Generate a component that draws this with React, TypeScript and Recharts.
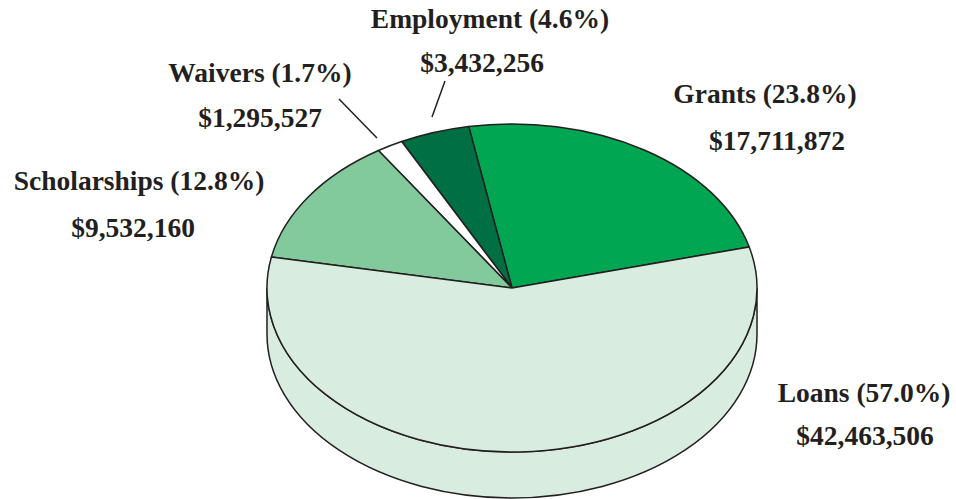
import React from 'react';
import { PieChart, Pie, Cell } from 'recharts';

const names = ['Grants', 'Employment', 'Waivers', 'Scholarships', 'Loans'];
const amounts = [17711872, 3432256, 1295527, 9532160, 42463506];
const colors = ['#00a651', '#006f43', '#ffffff', '#82c99c', '#d8ede0'];

const total = amounts.reduce((a, b) => a + b, 0);
const data = names.map((name, i) => ({ name, value: amounts[i] }));

// label placement (title centre / baselines), keyed by slice name
const labelPos: Record<string, { x1: number; y1: number; x2: number; y2: number }> = {
  Grants: { x1: 765, y1: 103, x2: 777, y2: 150 },
  Employment: { x1: 490, y1: 28, x2: 482, y2: 72 },
  Waivers: { x1: 260, y1: 82, x2: 260, y2: 127 },
  Scholarships: { x1: 139, y1: 190, x2: 133, y2: 237 },
  Loans: { x1: 864, y1: 402, x2: 865, y2: 445 },
};
const leaders: Record<string, number[]> = {
  Waivers: [339, 99, 377, 138],
  Employment: [445, 81, 432, 117],
};

const W = 956;
const H = 499;
const SQUASH = 164 / 245; // ellipse ry / rx
const DEPTH = 46;
const INK = '#231f20';
const FONT = 27.5;

const rad = (d: number) => (d * Math.PI) / 180;

// elliptical slice + front wall, built from the angles recharts computes
const Slice3D = (props: any) => {
  const { cx, cy, outerRadius, fill } = props;
  const a0 = Math.min(props.startAngle, props.endAngle);
  const a1 = Math.max(props.startAngle, props.endAngle);
  const rx = outerRadius;
  const ry = outerRadius * SQUASH;
  const pt = (a: number, dy = 0) => [cx + rx * Math.cos(rad(a)), cy - ry * Math.sin(rad(a)) + dy];

  const [x0, y0] = pt(a0);
  const [x1, y1] = pt(a1);
  const large = a1 - a0 > 180 ? 1 : 0;
  const top = `M${cx},${cy} L${x0},${y0} A${rx},${ry} 0 ${large} 0 ${x1},${y1} Z`;

  // front part of the slice: angles within 180..360 (mod 360)
  const walls: string[] = [];
  for (const base of [0, 360]) {
    const s = Math.max(a0, 180 + base);
    const e = Math.min(a1, 360 + base);
    if (e > s) {
      const [sx, sy] = pt(s);
      const [ex, ey] = pt(e);
      walls.push(
        `M${sx},${sy} A${rx},${ry} 0 0 0 ${ex},${ey} L${ex},${ey + DEPTH} A${rx},${ry} 0 0 1 ${sx},${sy + DEPTH} Z`
      );
    }
  }

  return (
    <g>
      {walls.map((d, i) => (
        <path key={i} d={d} fill={fill} stroke={INK} strokeWidth={1.5} strokeLinejoin="round" />
      ))}
      <path d={top} fill={fill} stroke={INK} strokeWidth={1.5} strokeLinejoin="round" />
    </g>
  );
};

const renderLabel = (props: any) => {
  const name = names[props.index];
  const p = labelPos[name];
  const pct = ((amounts[props.index] / total) * 100).toFixed(1);
  const ln = leaders[name];
  return (
    <g key={name}>
      {ln && <line x1={ln[0]} y1={ln[1]} x2={ln[2]} y2={ln[3]} stroke={INK} strokeWidth={1.5} />}
      <text x={p.x1} y={p.y1} textAnchor="middle" fill={INK} fontSize={FONT} fontWeight="bold" fontFamily="'Liberation Serif', serif">
        {`${name} (${pct}%)`}
      </text>
      <text x={p.x2} y={p.y2} textAnchor="middle" fill={INK} fontSize={FONT} fontWeight="bold" fontFamily="'Liberation Serif', serif">
        {'$' + amounts[props.index].toLocaleString('en-US')}
      </text>
    </g>
  );
};

export default function App() {
  return (
    <div style={{ width: W, height: H, background: '#fff' }}>
      <style>{'body{margin:0}'}</style>
      <PieChart width={W} height={H} margin={{ top: 0, right: 0, bottom: 0, left: 0 }}>
        <Pie
          data={data}
          dataKey="value"
          nameKey="name"
          cx={512}
          cy={288}
          outerRadius={245}
          startAngle={14.5}
          endAngle={374.5}
          stroke={INK}
          shape={Slice3D}
          activeShape={Slice3D}
          inactiveShape={Slice3D}
          label={renderLabel}
          labelLine={false}
          isAnimationActive={false}
        >
          {data.map((d, i) => (
            <Cell key={d.name} fill={colors[i]} />
          ))}
        </Pie>
      </PieChart>
    </div>
  );
}
